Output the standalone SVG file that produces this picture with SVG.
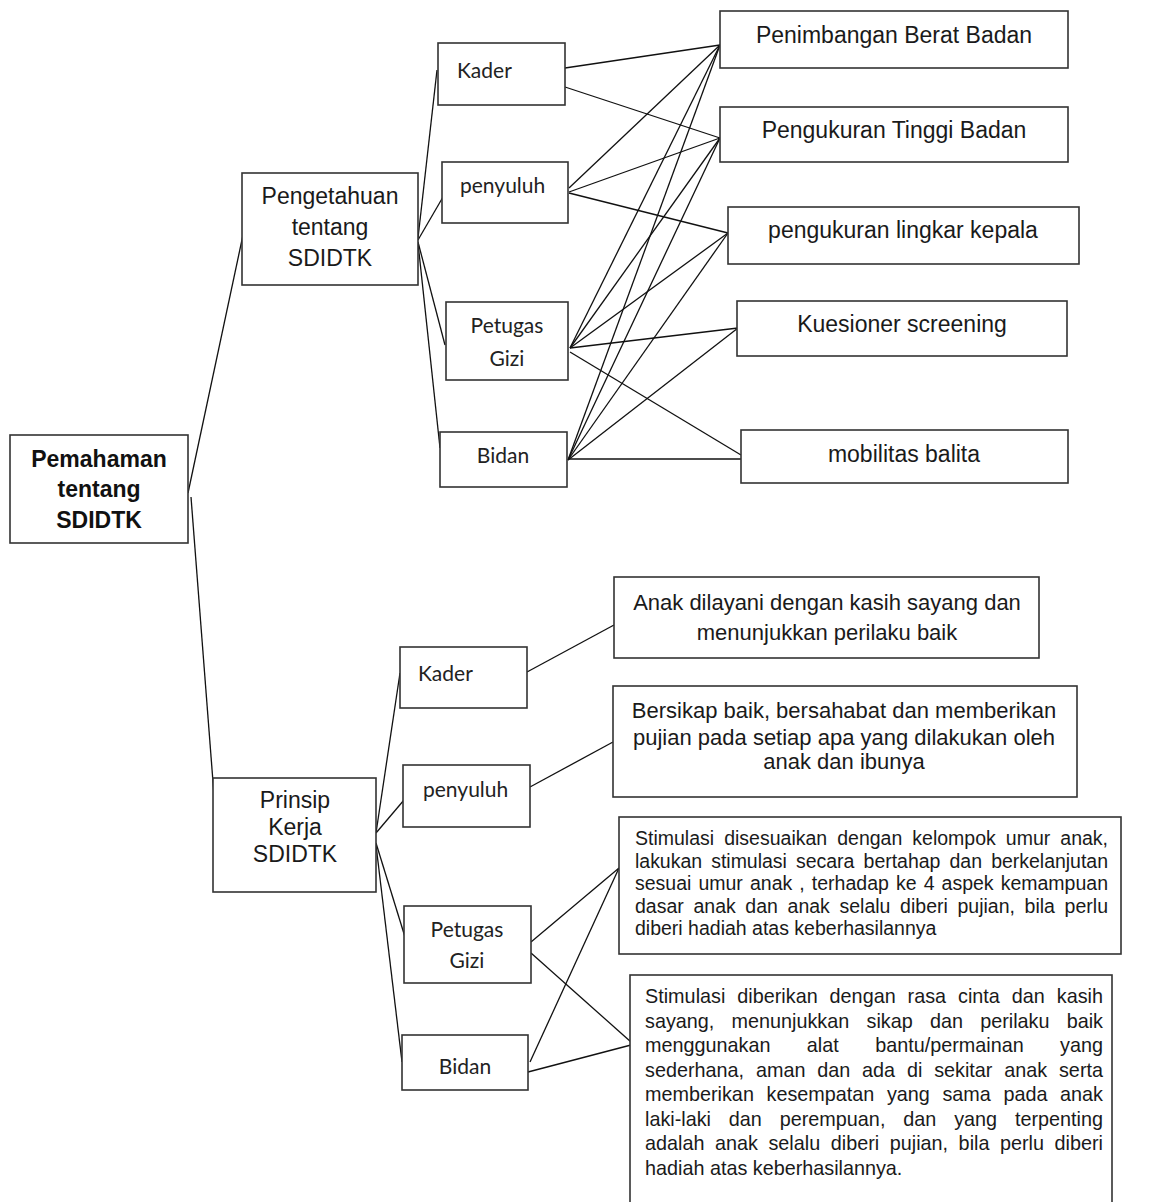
<svg xmlns="http://www.w3.org/2000/svg" width="1155" height="1202" viewBox="0 0 1155 1202">
<style>
.box{fill:#fff;stroke:#333;stroke-width:1.6}
.ar{font-family:"Liberation Sans",Arial,sans-serif;font-size:23px;fill:#1a1a1a}
.arb{font-family:"Liberation Sans",Arial,sans-serif;font-size:23px;font-weight:bold;fill:#111}
.ar22{font-family:"Liberation Sans",Arial,sans-serif;font-size:22px;fill:#1a1a1a}
.sm{font-family:"Liberation Sans",Arial,sans-serif;font-size:19.5px;fill:#1a1a1a}
.sm2{font-family:"Liberation Sans",Arial,sans-serif;font-size:19.8px;fill:#1a1a1a}
.cal{font-family:Lato,"Open Sans",sans-serif;font-size:21px;fill:#222}
.c{text-anchor:middle}
.e{text-anchor:end}
#connectors line{stroke:#111;stroke-width:1.3}
</style>
<rect width="1155" height="1202" fill="#fff"/>
<g id="connectors">
<line x1="188" y1="493" x2="243" y2="235"/>
<line x1="191" y1="497" x2="215" y2="808"/>
<line x1="418" y1="238" x2="437" y2="70"/>
<line x1="418" y1="240" x2="443" y2="197"/>
<line x1="418" y1="242" x2="445" y2="345"/>
<line x1="418" y1="243" x2="440" y2="448"/>
<line x1="565" y1="68" x2="720" y2="45"/>
<line x1="565" y1="87" x2="720" y2="138"/>
<line x1="569" y1="188" x2="720" y2="45"/>
<line x1="569" y1="192" x2="720" y2="138"/>
<line x1="569" y1="193" x2="728" y2="233"/>
<line x1="570" y1="348" x2="720" y2="45"/>
<line x1="570" y1="348" x2="720" y2="138"/>
<line x1="570" y1="348" x2="728" y2="233"/>
<line x1="570" y1="348" x2="738" y2="328"/>
<line x1="570" y1="352" x2="741" y2="455"/>
<line x1="568" y1="460" x2="720" y2="45"/>
<line x1="568" y1="460" x2="720" y2="138"/>
<line x1="568" y1="460" x2="728" y2="233"/>
<line x1="568" y1="460" x2="738" y2="328"/>
<line x1="568" y1="459" x2="741" y2="459"/>
<line x1="376" y1="833" x2="400" y2="673"/>
<line x1="376" y1="833" x2="404" y2="800"/>
<line x1="376" y1="843" x2="405" y2="937"/>
<line x1="376" y1="845" x2="402" y2="1062"/>
<line x1="527" y1="672" x2="614" y2="625"/>
<line x1="530" y1="787" x2="613" y2="742"/>
<line x1="531" y1="942" x2="619" y2="868"/>
<line x1="531" y1="953" x2="631" y2="1042"/>
<line x1="530" y1="1062" x2="619" y2="868"/>
<line x1="528" y1="1072" x2="631" y2="1045"/>
</g>
<g id="n-pemahaman"><rect class="box" x="10" y="435" width="178" height="108"/>
<text class="arb c" x="99" y="467">Pemahaman</text><text class="arb c" x="99" y="497">tentang</text><text class="arb c" x="99" y="528">SDIDTK</text></g>
<g id="n-pengetahuan"><rect class="box" x="242" y="173" width="176" height="112"/>
<text class="ar c" x="330" y="204">Pengetahuan</text><text class="ar c" x="330" y="235">tentang</text><text class="ar c" x="330" y="266">SDIDTK</text></g>
<g id="n-prinsip"><rect class="box" x="213" y="778" width="163" height="114"/>
<text class="ar c" x="295" y="808">Prinsip</text><text class="ar c" x="295" y="835">Kerja</text><text class="ar c" x="295" y="862">SDIDTK</text></g>
<g id="n-kader1"><rect class="box" x="438" y="43" width="127" height="62"/><text class="cal" x="457" y="78">Kader</text></g>
<g id="n-penyuluh1"><rect class="box" x="442" y="162" width="126" height="61"/><text class="cal" x="460" y="193">penyuluh</text></g>
<g id="n-petugas1"><rect class="box" x="446" y="302" width="122" height="78"/><text class="cal c" x="507" y="333">Petugas</text><text class="cal c" x="507" y="366">Gizi</text></g>
<g id="n-bidan1"><rect class="box" x="440" y="432" width="127" height="55"/><text class="cal c" x="503" y="463">Bidan</text></g>
<g id="n-penimbangan"><rect class="box" x="720" y="11" width="348" height="57"/><text class="ar c" x="894" y="43">Penimbangan Berat Badan</text></g>
<g id="n-tinggi"><rect class="box" x="720" y="107" width="348" height="55"/><text class="ar c" x="894" y="138">Pengukuran Tinggi Badan</text></g>
<g id="n-lingkar"><rect class="box" x="728" y="207" width="351" height="57"/><text class="ar c" x="903" y="238">pengukuran lingkar kepala</text></g>
<g id="n-kuesioner"><rect class="box" x="737" y="301" width="330" height="55"/><text class="ar c" x="902" y="332">Kuesioner screening</text></g>
<g id="n-mobilitas"><rect class="box" x="741" y="430" width="327" height="53"/><text class="ar c" x="904" y="462">mobilitas balita</text></g>
<g id="n-kader2"><rect class="box" x="400" y="647" width="127" height="61"/><text class="cal" x="418" y="681">Kader</text></g>
<g id="n-penyuluh2"><rect class="box" x="403" y="765" width="127" height="62"/><text class="cal" x="423" y="797">penyuluh</text></g>
<g id="n-petugas2"><rect class="box" x="404" y="906" width="127" height="77"/><text class="cal c" x="467" y="937">Petugas</text><text class="cal c" x="467" y="968">Gizi</text></g>
<g id="n-bidan2"><rect class="box" x="402" y="1035" width="126" height="55"/><text class="cal c" x="465" y="1074">Bidan</text></g>
<g id="n-box1"><rect class="box" x="614" y="577" width="425" height="81"/>
<text class="ar22 c" x="827" y="610">Anak dilayani dengan kasih sayang dan</text>
<text class="ar22 c" x="827" y="640">menunjukkan perilaku baik</text></g>
<g id="n-box2"><rect class="box" x="613" y="686" width="464" height="111"/>
<text class="ar22 c" x="844" y="718">Bersikap baik, bersahabat dan memberikan</text>
<text class="ar22 c" x="844" y="745">pujian pada setiap apa yang dilakukan oleh</text>
<text class="ar22 c" x="844" y="769">anak dan ibunya</text></g>
<g id="n-box3"><rect class="box" x="619" y="817" width="502" height="137"/>
<text class="sm" x="635" y="845" word-spacing="4.6" textLength="473" lengthAdjust="spacing">Stimulasi disesuaikan dengan kelompok umur anak,</text>
<text class="sm" x="635" y="867.5" word-spacing="3.8" textLength="473" lengthAdjust="spacing">lakukan stimulasi secara bertahap dan berkelanjutan</text>
<text class="sm" x="635" y="890" word-spacing="1.7" textLength="473" lengthAdjust="spacing">sesuai umur anak , terhadap ke 4 aspek kemampuan</text>
<text class="sm" x="635" y="912.5" word-spacing="4.2" textLength="473" lengthAdjust="spacing">dasar anak dan anak selalu diberi pujian, bila perlu</text>
<text class="sm" x="635" y="935">diberi hadiah atas keberhasilannya</text></g>
<g id="n-box4"><rect class="box" x="630" y="975" width="482" height="240"/>
<text class="sm2" x="645" y="1003" word-spacing="6.4" textLength="458" lengthAdjust="spacing">Stimulasi diberikan dengan rasa cinta dan kasih</text>
<text class="sm2" x="645" y="1027.5" word-spacing="11.7" textLength="458" lengthAdjust="spacing">sayang, menunjukkan sikap dan perilaku baik</text>
<text class="sm2" x="645" y="1052" word-spacing="30.9" textLength="458" lengthAdjust="spacing">menggunakan alat bantu/permainan yang</text>
<text class="sm2" x="645" y="1076.5" word-spacing="6.3" textLength="458" lengthAdjust="spacing">sederhana, aman dan ada di sekitar anak serta</text>
<text class="sm2" x="645" y="1101" word-spacing="7.1" textLength="458" lengthAdjust="spacing">memberikan kesempatan yang sama pada anak</text>
<text class="sm2" x="645" y="1125.5" word-spacing="12.4" textLength="458" lengthAdjust="spacing">laki-laki dan perempuan, dan yang terpenting</text>
<text class="sm2" x="645" y="1150" word-spacing="5" textLength="458" lengthAdjust="spacing">adalah anak selalu diberi pujian, bila perlu diberi</text>
<text class="sm2" x="645" y="1174.5">hadiah atas keberhasilannya.</text></g>
</svg>
